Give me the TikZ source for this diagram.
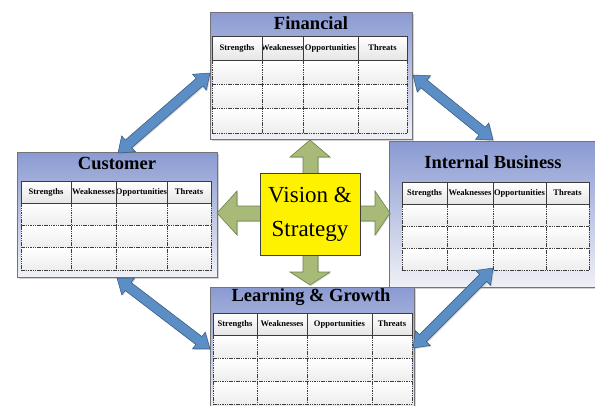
\documentclass[tikz,border=0pt]{standalone}
\usepackage{fontspec}
\setmainfont{Liberation Serif}
\usetikzlibrary{calc,shadows}
\definecolor{boxtop}{RGB}{138,154,210}
\definecolor{boxbot}{RGB}{240,241,246}
\definecolor{boxline}{RGB}{115,115,120}
\definecolor{arrfill}{RGB}{92,142,198}
\definecolor{arrline}{RGB}{55,85,125}
\definecolor{grnfill}{RGB}{168,186,120}
\definecolor{grnline}{RGB}{110,130,72}
\definecolor{cellline}{RGB}{60,60,60}
\tikzset{
 panel/.style={draw=boxline, line width=0.7pt, top color=boxtop, bottom color=boxbot, inner sep=0pt,
   drop shadow={shadow xshift=1.5pt, shadow yshift=-1.5pt, opacity=0.35, fill=gray}},
 ptitle/.style={font=\fontsize{18.5}{20}\selectfont\bfseries, inner sep=0pt},
 hdrtext/.style={font=\fontsize{8.5}{9}\selectfont\bfseries, inner sep=0pt},
 hdrcell/.style={draw=cellline, line width=0.6pt},
 gridline/.style={draw=cellline, line width=0.55pt, dash pattern=on 1.5pt off 0.8pt},
 vsbox/.style={draw=black!75, line width=0.6pt, fill=yellow, minimum width=100pt, minimum height=82pt,
   align=center, inner sep=0pt, font=\fontsize{23}{34}\selectfont},
 quadarrow/.style={fill=grnfill, draw=grnline, line width=0.6pt,
   drop shadow={shadow xshift=1pt, shadow yshift=-1pt, opacity=0.3, fill=gray}},
 bluearrow/.style={fill=arrfill, draw=arrline, line width=0.5pt,
   drop shadow={shadow xshift=1pt, shadow yshift=-1pt, opacity=0.35, fill=gray}}
}
% #1 prefix, #2..#6 column x, #7 top, #8 header bottom, #9 table bottom
\newcommand\swottbl[9]{%
 \foreach \xa/\xb/\t/\k in {#2/#3/Strengths/s,#3/#4/Weaknesses/w,#4/#5/Opportunities/o,#5/#6/Threats/t}{
  \begin{scope}
   \clip (\xa,#7) rectangle (\xb,#8);
   \shade[top color=white,bottom color=gray!20] (\xa,#7) rectangle (\xb,#8);
   \node[hdrtext] (#1-\k) at ({(\xa+\xb)/2},{(#7+#8)/2}) {\t};
  \end{scope}
  \foreach \r in {0,1,2}{
   \pgfmathsetmacro\ya{#8+\r*(#9-#8)/3}
   \pgfmathsetmacro\yb{#8+(\r+1)*(#9-#8)/3}
   \shade[top color=white,bottom color=gray!14] (\xa,\ya) rectangle (\xb,\yb);
  }
 }
 \foreach \r in {1,2,3}{
  \pgfmathsetmacro\ya{#8+\r*(#9-#8)/3}
  \draw[gridline] (#2,\ya) -- (#6,\ya);
 }
 \foreach \xx in {#2,#3,#4,#5,#6}{
  \draw[gridline] (\xx,#8) -- (\xx,#9);
 }
 \foreach \xa/\xb in {#2/#3,#3/#4,#4/#5,#5/#6}{
  \draw[hdrcell] (\xa,#7) rectangle (\xb,#8);
 }
}
\newcommand\dblarrow[2]{%
 \filldraw[bluearrow] (#1)
  -- ($(#1)!14pt!(#2)!10.5pt!90:(#2)$)
  -- ($(#1)!14pt!(#2)!5pt!90:(#2)$)
  -- ($(#2)!14pt!(#1)!5pt!-90:(#1)$)
  -- ($(#2)!14pt!(#1)!10.5pt!-90:(#1)$)
  -- (#2)
  -- ($(#2)!14pt!(#1)!10.5pt!90:(#1)$)
  -- ($(#2)!14pt!(#1)!5pt!90:(#1)$)
  -- ($(#1)!14pt!(#2)!5pt!-90:(#2)$)
  -- ($(#1)!14pt!(#2)!10.5pt!-90:(#2)$)
  -- cycle;
}
\begin{document}
\begin{tikzpicture}[x=1pt,y=-1pt]
\useasboundingbox (0,0) rectangle (595,405);
\fill[white] (0,0) rectangle (595,405);

% panels
\node[panel, minimum width=202pt, minimum height=127pt] (fin) at (311,75.5) {};
\node[ptitle] (fint) at (311,23) {Financial};
\swottbl{fin}{212}{262}{303}{358}{407}{36}{60}{133}

\node[panel, minimum width=200pt, minimum height=125pt] (cust) at (117,214.5) {};
\node[ptitle] (custt) at (117,163) {Customer};
\swottbl{cust}{21}{71}{116}{167}{211}{181}{203}{270}

\node[panel, minimum width=208pt, minimum height=146pt] (intb) at (493,214) {};
\node[ptitle] (intbt) at (493,162) {Internal Business};
\swottbl{intb}{402}{447}{493}{546}{589}{182}{204}{270}

\node[panel, minimum width=204pt, minimum height=126pt] (learn) at (312,350) {};
\node[ptitle] (learnt) at (311,297) {Learning \& Growth};
\swottbl{learn}{213}{257}{307}{372}{412}{313}{335}{404}

% central quad arrow
\filldraw[quadarrow] (303,157) -- (290,157) -- (310,140) -- (330,157) -- (318,157)
  -- (318,206) -- (375,206) -- (375,191) -- (390,213) -- (375,235) -- (375,221)
  -- (318,221) -- (318,272) -- (330,272) -- (310,285) -- (290,272) -- (303,272)
  -- (303,221) -- (237,221) -- (237,235) -- (217,213) -- (237,191) -- (237,206)
  -- (303,206) -- cycle;
\node[vsbox] (vs) at (310,214) {Vision \&\\Strategy};

% blue double arrows
\coordinate (a1) at (118,153); \coordinate (b1) at (210,73);
\coordinate (a2) at (413,75);  \coordinate (b2) at (493,140);
\coordinate (a3) at (117,278); \coordinate (b3) at (210,349);
\coordinate (a4) at (493,268); \coordinate (b4) at (413,348);
\dblarrow{a1}{b1}
\dblarrow{a2}{b2}
\dblarrow{a3}{b3}
\dblarrow{a4}{b4}
\end{tikzpicture}
\end{document}
